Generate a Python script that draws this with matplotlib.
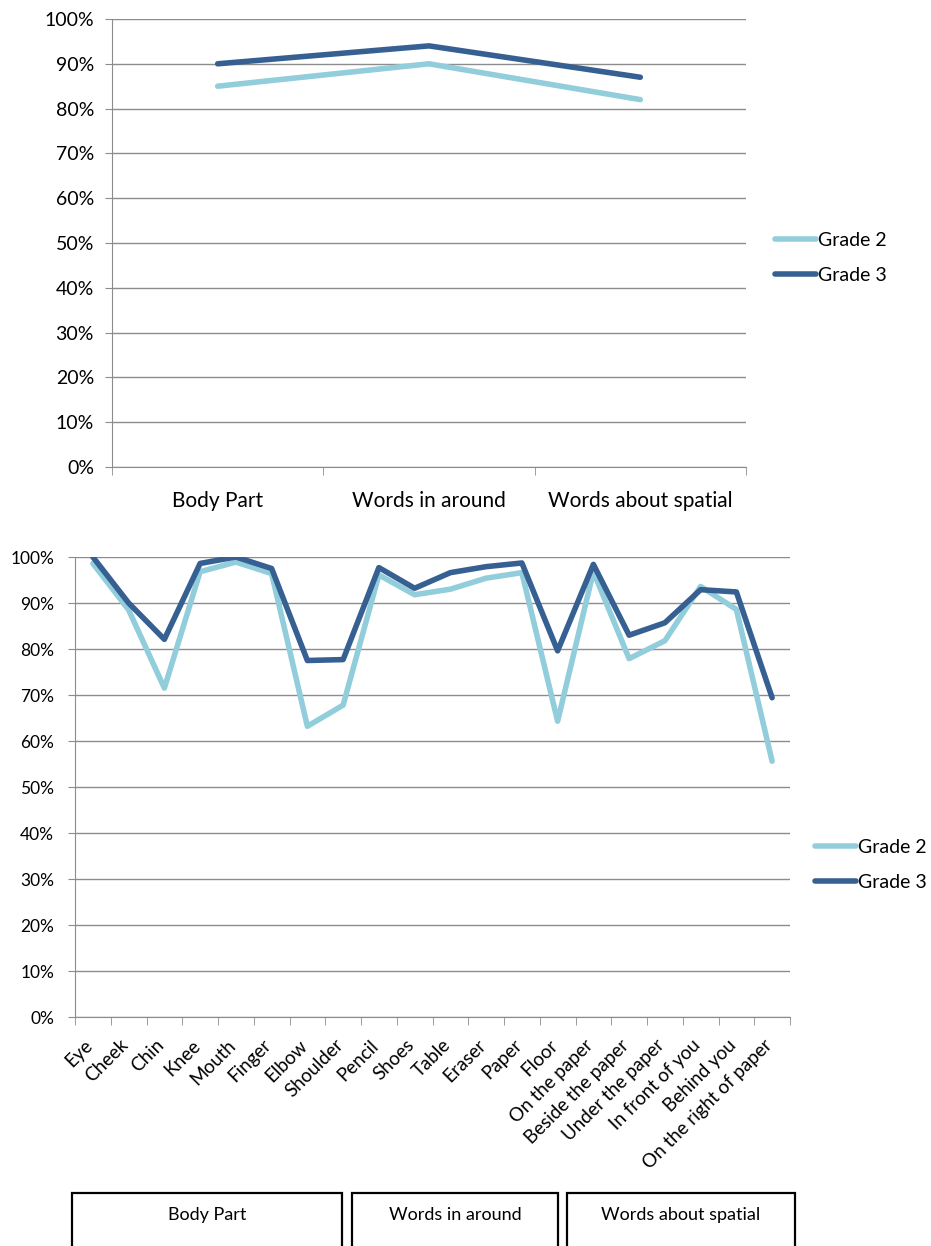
import matplotlib.pyplot as plt
from matplotlib.patches import Rectangle
from matplotlib.ticker import PercentFormatter, FixedLocator
from matplotlib.transforms import ScaledTranslation

plt.rcParams['font.family'] = ['Lato', 'DejaVu Sans']

# summary by group
groups = ["Body Part", "Words in around", "Words about spatial"]
grade2_group = [85, 90, 82]
grade3_group = [90, 94, 87]

# per word
words = ["Eye", "Cheek", "Chin", "Knee", "Mouth", "Finger", "Elbow", "Shoulder",
         "Pencil", "Shoes", "Table", "Eraser", "Paper", "Floor",
         "On the paper", "Beside the paper", "Under the paper", "In front of you",
         "Behind you", "On the right of paper"]
grade2_words = [98.6, 88.5, 71.5, 96.8, 98.9, 96.4, 63.2, 67.8,
                96.1, 91.8, 93.0, 95.4, 96.6, 64.3,
                96.8, 77.9, 81.8, 93.6, 88.6, 55.6]
grade3_words = [100, 90.0, 82.1, 98.6, 100, 97.5, 77.5, 77.7,
                97.7, 93.2, 96.6, 97.9, 98.7, 79.6,
                98.4, 83.0, 85.7, 92.9, 92.4, 69.4]

c2 = "#92CDDC"
c3 = "#376092"
grid_c = "#8C8C8C"

W, H = 931, 1246
fig = plt.figure(figsize=(W / 100, H / 100), dpi=100)


def px_axes(l, t, r, b):
    return fig.add_axes([l / W, 1 - b / H, (r - l) / W, (b - t) / H])


def style(ax, n, ysize, ypad):
    ax.set_ylim(0, 100)
    ax.set_xlim(-0.5, n - 0.5)
    ax.yaxis.set_major_locator(FixedLocator(range(0, 101, 10)))
    ax.yaxis.set_major_formatter(PercentFormatter(decimals=0))
    ax.grid(axis="y", color=grid_c, lw=1)
    ax.set_axisbelow(True)
    for s in ["top", "right"]:
        ax.spines[s].set_visible(False)
    for s in ["left", "bottom"]:
        ax.spines[s].set_color(grid_c)
    ax.xaxis.set_minor_locator(FixedLocator([i - 0.5 for i in range(n + 1)]))
    ax.tick_params(axis="x", which="major", length=0)
    ax.tick_params(axis="x", which="minor", length=6, color=grid_c, direction="out")
    ax.tick_params(axis="y", length=5, color=grid_c, labelsize=ysize, pad=ypad)


def add_legend(ax, x_px, y_px):
    ax.legend(loc="center left", bbox_to_anchor=(x_px / W, 1 - y_px / H),
              bbox_transform=fig.transFigure, frameon=False, fontsize=14,
              handlelength=2.1, handletextpad=0.1, labelspacing=0.95,
              borderaxespad=0)


line_kw = dict(lw=4, solid_joinstyle="round", solid_capstyle="round")

# top chart
ax1 = px_axes(112, 19, 746, 467)
x = range(len(groups))
ax1.plot(x, grade2_group, color=c2, label="Grade 2", **line_kw)
ax1.plot(x, grade3_group, color=c3, label="Grade 3", **line_kw)
style(ax1, len(groups), 14, 8)
ax1.set_xticks(list(x))
ax1.set_xticklabels(groups, fontsize=15)
ax1.tick_params(axis="x", which="major", pad=17)
add_legend(ax1, 767, 258)

# bottom chart
ax2 = px_axes(75, 557, 790, 1017)
x = range(len(words))
ax2.plot(x, grade2_words, color=c2, label="Grade 2", **line_kw)
ax2.plot(x, grade3_words, color=c3, label="Grade 3", **line_kw)
style(ax2, len(words), 12.5, 10)
ax2.set_xticks(list(x))
ax2.set_xticklabels(words, fontsize=13.5, rotation=45, ha="right",
                    rotation_mode="anchor")
ax2.tick_params(axis="x", which="major", pad=14)
shift = ScaledTranslation(-9 / 100, 0, fig.dpi_scale_trans)
for lab in ax2.get_xticklabels():
    lab.set_transform(lab.get_transform() + shift)
add_legend(ax2, 807, 865)

# group boxes under the word labels
boxes = [(72, 342), (352, 558), (567, 795)]
for (l, r), name in zip(boxes, groups):
    rect = Rectangle((l / W, 1 - 1260 / H), (r - l) / W, (1260 - 1193) / H,
                     transform=fig.transFigure, fill=False, ec="black", lw=1.6)
    fig.add_artist(rect)
    fig.text((l + r) / 2 / W, 1 - 1215 / H, name, ha="center", va="center",
             fontsize=13)

fig.savefig("out.png", dpi=100)
